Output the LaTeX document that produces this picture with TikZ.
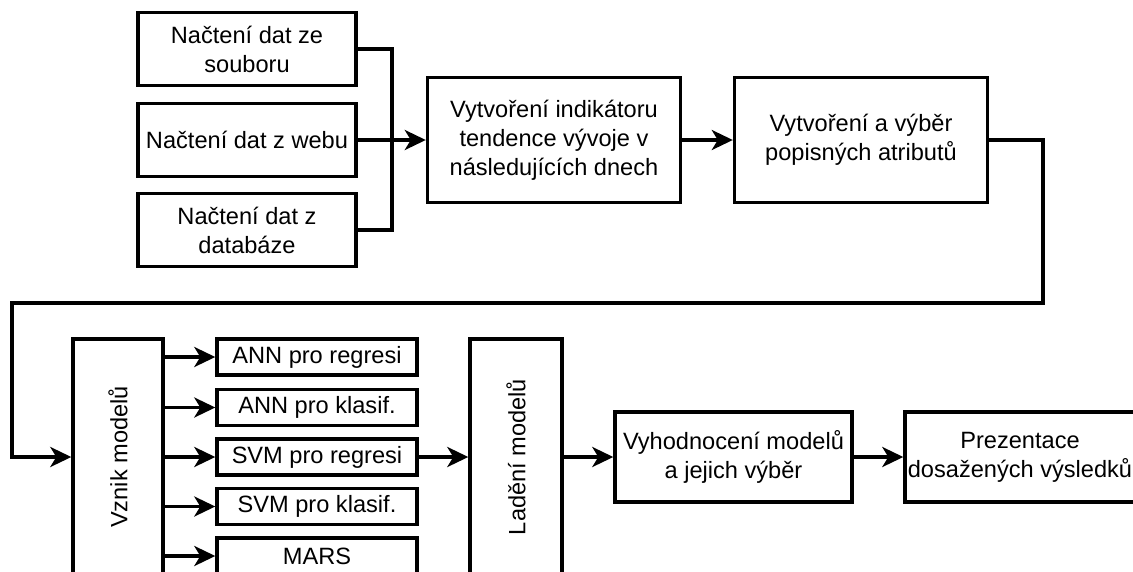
\documentclass[tikz,border=0pt]{standalone}
\usepackage{fontspec}
\setmainfont{Liberation Sans}
\usetikzlibrary{arrows.meta}
\begin{document}
\begin{tikzpicture}[x=1pt,y=-1pt,
  txt/.style={font=\fontsize{23.6}{29}\selectfont,align=center,inner sep=0pt},
  box/.style={draw,line width=3.4pt,rectangle,txt},
  conn/.style={line width=3.4pt,-{Stealth[length=21pt,width=20pt,inset=6pt]}},
  plain/.style={line width=3.4pt}]
\useasboundingbox (0,0) rectangle (1133,571);
\clip (0,0) rectangle (1133,571);
% top row
\node[box,minimum width=218pt,minimum height=73pt] (a) at (247,49) {Načtení dat ze\\souboru};
\node[box,minimum width=218pt,minimum height=73pt] (b) at (247,140) {Načtení dat z webu};
\node[box,minimum width=218pt,minimum height=73pt] (c) at (247,230) {Načtení dat z\\databáze};
\node[box,minimum width=253pt,minimum height=125pt] (d) at (554,140) {Vytvoření indikátoru\\tendence vývoje v\\následujících dnech};
\node[box,minimum width=253pt,minimum height=125pt] (e) at (861,140) {Vytvoření a výběr\\popisných atributů};
% bottom row
\node[box,minimum width=90pt,minimum height=236pt] (vz) at (118,457) {};
\node[txt,rotate=90] (vzl) at (vz.center) {Vznik modelů};
\node[box,minimum width=200pt,minimum height=36pt] (m1) at (317,357) {ANN pro regresi};
\node[box,minimum width=200pt,minimum height=36pt] (m2) at (317,407.5) {ANN pro klasif.};
\node[box,minimum width=200pt,minimum height=36pt] (m3) at (317,457) {SVM pro regresi};
\node[box,minimum width=200pt,minimum height=36pt] (m4) at (317,506.5) {SVM pro klasif.};
\node[box,minimum width=200pt,minimum height=36pt] (m5) at (317,556) {MARS};
\node[box,minimum width=92pt,minimum height=236pt] (la) at (516,457) {};
\node[txt,rotate=90] (lal) at (la.center) {Ladění modelů};
\node[box,minimum width=237pt,minimum height=90pt] (f) at (733.5,457) {Vyhodnocení modelů\\a jejich výběr};
\node[box,minimum width=230pt,minimum height=90pt] (g) at (1020,457) {Prezentace\\dosažených výsledků};
% connectors
\coordinate (bus) at (392,140);
\draw[plain] (a.east) -| (bus);
\draw[plain] (c.east) -| (bus);
\draw[conn] (b) -- (d);
\draw[conn] (d) -- (e);
\coordinate (p1) at (1043,303);
\coordinate (p2) at (12,303);
\draw[conn] (e.east) -| (p1) -- (p2) |- (vz.west);
\foreach \m in {m1,m2,m3,m4,m5}{
  \draw[conn] (vz.east |- \m) -- (\m);
}
\draw[conn] (m3) -- (m3 -| la.west);
\draw[conn] (la.east |- f) -- (f);
\draw[conn] (f) -- (g);
\end{tikzpicture}
\end{document}
